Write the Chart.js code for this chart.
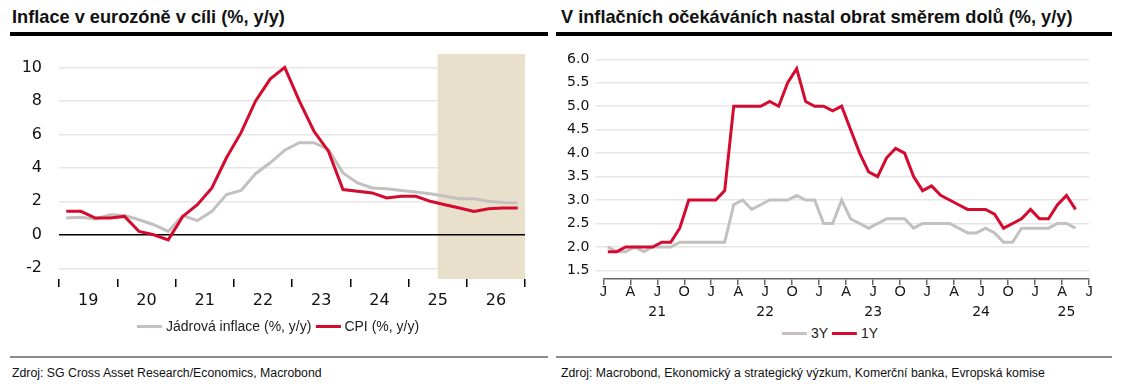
<!DOCTYPE html>
<html>
<head>
<meta charset="utf-8">
<script src="https://cdn.jsdelivr.net/npm/chart.js@4.4.1/dist/chart.umd.min.js"></script>
<style>
  body { margin: 0; width: 1124px; height: 387px; background: #fff; position: relative; overflow: hidden;
         font-family: "Liberation Sans", Arial, sans-serif; color: #111; }
  .title { position: absolute; top: 7px; font-size: 18.2px; font-weight: bold; white-space: nowrap; }
  .rule { position: absolute; top: 32px; height: 4px; background: #000; }
  .foot-rule { position: absolute; top: 356px; height: 2px; background: #8c8c8c; }
  .source { position: absolute; top: 366px; font-size: 12.3px; white-space: nowrap; }
  .legend { position: absolute; font-size: 14px; color: #222; display: flex; align-items: center;
            white-space: nowrap; transform: translateX(-50%); }
  .legend .sw { display: inline-block; width: 25px; height: 3px; margin-right: 4px; }
  .legend .item { display: flex; align-items: center; margin-right: 4px; }
  canvas { position: absolute; }
</style>
</head>
<body>
<div class="title" style="left:12px">Inflace v eurozóně v cíli (%, y/y)</div>
<div class="rule" style="left:10px; width:538px"></div>
<div class="title" style="left:561px">V inflačních očekáváních nastal obrat směrem dolů (%, y/y)</div>
<div class="rule" style="left:556px; width:556px"></div>

<canvas id="euroChart" width="555" height="279" style="left:0; top:40px"></canvas>
<canvas id="expChart" width="569" height="279" style="left:555px; top:40px"></canvas>

<div class="legend" style="left:280px; top:318px">
  <span class="item"><span class="sw" style="background:#c4c0c0"></span>Jádrová inflace (%, y/y)</span>
  <span class="item"><span class="sw" style="background:#d40a2e"></span>CPI (%, y/y)</span>
</div>
<div class="legend" style="left:832px; top:325px">
  <span class="item"><span class="sw" style="background:#c4c0c0"></span>3Y</span>
  <span class="item"><span class="sw" style="background:#d40a2e"></span>1Y</span>
</div>

<div class="foot-rule" style="left:10px; width:538px"></div>
<div class="source" style="left:12px">Zdroj: SG Cross Asset Research/Economics, Macrobond</div>
<div class="foot-rule" style="left:556px; width:556px"></div>
<div class="source" style="left:561px">Zdroj: Macrobond, Ekonomický a strategický výzkum, Komerční banka, Evropská komise</div>

<script>
// --- levý graf: čtvrtletní data 2019Q1 - 2026Q4 ---
const euroStartYear = 2019;
const euroYears = ['19', '20', '21', '22', '23', '24', '25', '26'];
const euroTicks = [-2, 0, 2, 4, 6, 8, 10];
const forecastStart = 2025.5;
const cpi = [1.4, 1.4, 1.0, 1.0, 1.1, 0.2, 0.0, -0.3,
             1.1, 1.8, 2.8, 4.6, 6.1, 8.0, 9.3, 10.0,
             8.0, 6.2, 5.0, 2.7, 2.6, 2.5, 2.2, 2.3,
             2.3, 2.0, 1.8, 1.6, 1.4, 1.55, 1.6, 1.6];
const core = [1.0, 1.05, 0.95, 1.2, 1.15, 0.9, 0.6, 0.2,
              1.15, 0.85, 1.4, 2.4, 2.65, 3.65, 4.3, 5.05,
              5.5, 5.5, 5.1, 3.7, 3.1, 2.8, 2.75, 2.65,
              2.55, 2.45, 2.3, 2.15, 2.15, 2.0, 1.93, 1.9];

// --- pravý graf: měsíční data od 01/2021 ---
const monthLetters = ['J', 'A', 'J', 'O'];
const expYears = ['21', '22', '23', '24', '25'];
const expYearTicks = [6, 18, 30, 42, 51.5];
const expTicks = [1.5, 2.0, 2.5, 3.0, 3.5, 4.0, 4.5, 5.0, 5.5, 6.0];
const oneY = [1.9, 1.9, 2.0, 2.0, 2.0, 2.0, 2.1, 2.1, 2.4, 3.0, 3.0, 3.0,
              3.0, 3.2, 5.0, 5.0, 5.0, 5.0, 5.1, 5.0, 5.5, 5.8, 5.1, 5.0,
              5.0, 4.9, 5.0, 4.5, 4.0, 3.6, 3.5, 3.9, 4.1, 4.0, 3.5, 3.2,
              3.3, 3.1, 3.0, 2.9, 2.8, 2.8, 2.8, 2.7, 2.4, 2.5, 2.6, 2.8,
              2.6, 2.6, 2.9, 3.1, 2.8];
const threeY = [2.0, 1.9, 1.9, 2.0, 1.9, 2.0, 2.0, 2.0, 2.1, 2.1, 2.1, 2.1,
                2.1, 2.1, 2.9, 3.0, 2.8, 2.9, 3.0, 3.0, 3.0, 3.1, 3.0, 3.0,
                2.5, 2.5, 3.0, 2.6, 2.5, 2.4, 2.5, 2.6, 2.6, 2.6, 2.4, 2.5,
                2.5, 2.5, 2.5, 2.4, 2.3, 2.3, 2.4, 2.3, 2.1, 2.1, 2.4, 2.4,
                2.4, 2.4, 2.5, 2.5, 2.4];

const RED = '#d40a2e';
const GREY = '#c4c0c0';
const GRID = '#e6e6e6';
const tickFont = { family: 'DejaVu Sans', size: 16 };

const quarterPoints = arr => arr.map((v, i) => ({ x: euroStartYear + (i + 0.5) / 4, y: v }));
const monthPoints = arr => arr.map((v, i) => ({ x: i + 0.5, y: v }));

// podbarvení prognózy + nulová linie
const forecastShade = {
    id: 'forecastShade',
    beforeDatasetsDraw(chart) {
        const { ctx, chartArea, scales } = chart;
        const x0 = scales.x.getPixelForValue(forecastStart);
        ctx.save();
        ctx.fillStyle = '#e8e0cb';
        ctx.fillRect(x0, chartArea.top, chartArea.right - x0, chartArea.bottom - chartArea.top);
        const y0 = scales.y.getPixelForValue(0);
        ctx.strokeStyle = '#000';
        ctx.lineWidth = 1.5;
        ctx.beginPath();
        ctx.moveTo(chartArea.left, y0);
        ctx.lineTo(chartArea.right, y0);
        ctx.stroke();
        ctx.restore();
    }
};

const yearTickValues = [];
for (let i = 0; i <= euroYears.length; i++) {
    yearTickValues.push(euroStartYear + i);
    if (i < euroYears.length) yearTickValues.push(euroStartYear + i + 0.5);
}

new Chart(document.getElementById('euroChart'), {
    type: 'line',
    data: {
        datasets: [
            { label: 'Jádrová inflace (%, y/y)', data: quarterPoints(core), borderColor: GREY, order: 2 },
            { label: 'CPI (%, y/y)', data: quarterPoints(cpi), borderColor: RED, order: 1 }
        ]
    },
    options: {
        responsive: false,
        animation: false,
        layout: { padding: { top: 14, right: 30, left: 0, bottom: 0 } },
        elements: {
            line: { borderWidth: 3, tension: 0 },
            point: { radius: 0 }
        },
        plugins: { legend: { display: false }, tooltip: { enabled: false } },
        scales: {
            x: {
                type: 'linear',
                min: euroStartYear,
                max: euroStartYear + euroYears.length,
                afterBuildTicks: s => { s.ticks = yearTickValues.map(v => ({ value: v })); },
                afterFit: s => { s.height = 40; },
                border: { display: false },
                grid: {
                    drawOnChartArea: false,
                    tickLength: 8,
                    lineWidth: 1.5,
                    color: ctx => (ctx.tick && Number.isInteger(ctx.tick.value)) ? '#000' : 'rgba(0,0,0,0)'
                },
                ticks: {
                    autoSkip: false,
                    maxRotation: 0,
                    padding: 4,
                    color: '#111',
                    font: tickFont,
                    callback: v => Number.isInteger(v) ? '' : euroYears[Math.floor(v) - euroStartYear]
                }
            },
            y: {
                min: -2.64,
                max: 10.8,
                afterBuildTicks: s => { s.ticks = euroTicks.map(v => ({ value: v })); },
                afterFit: s => { s.width = 59; },
                border: { display: false },
                grid: {
                    drawTicks: true,
                    tickLength: 17,
                    tickColor: 'rgba(0,0,0,0)',
                    lineWidth: 1.5,
                    color: ctx => (ctx.tick && ctx.tick.value === 0) ? 'rgba(0,0,0,0)' : GRID
                },
                ticks: { padding: 0, color: '#111', font: tickFont, callback: v => String(v) }
            }
        }
    },
    plugins: [forecastShade]
});

const quarterTickValues = [];
for (let m = 0; m <= 54; m += 3) quarterTickValues.push(m);

new Chart(document.getElementById('expChart'), {
    type: 'line',
    data: {
        datasets: [
            { label: '3Y', data: monthPoints(threeY), borderColor: GREY, order: 2 },
            { label: '1Y', data: monthPoints(oneY), borderColor: RED, order: 1 }
        ]
    },
    options: {
        responsive: false,
        animation: false,
        layout: { padding: { top: 19.3, right: 35, left: 0, bottom: 0 } },
        elements: {
            line: { borderWidth: 3, tension: 0 },
            point: { radius: 0 }
        },
        plugins: { legend: { display: false }, tooltip: { enabled: false } },
        scales: {
            x: {
                type: 'linear',
                position: 'bottom',
                min: 0,
                max: 54,
                afterBuildTicks: s => { s.ticks = quarterTickValues.map(v => ({ value: v })); },
                afterFit: s => { s.height = 18; },
                border: { display: true, color: '#666', width: 1.5 },
                grid: { drawOnChartArea: false, tickLength: 6, lineWidth: 1.5, color: '#666' },
                ticks: {
                    autoSkip: false,
                    maxRotation: 0,
                    padding: -2,
                    color: '#111',
                    font: { family: 'Liberation Sans', size: 14.5 },
                    callback: v => monthLetters[(v / 3) % 4]
                }
            },
            x2: {
                type: 'linear',
                position: 'bottom',
                min: 0,
                max: 54,
                afterBuildTicks: s => { s.ticks = expYearTicks.map(v => ({ value: v })); },
                afterFit: s => { s.height = 22; },
                border: { display: false },
                grid: { display: false },
                ticks: {
                    autoSkip: false,
                    maxRotation: 0,
                    padding: -1,
                    color: '#111',
                    font: { family: 'DejaVu Sans', size: 14 },
                    callback: (v, i) => expYears[i]
                }
            },
            y: {
                min: 1.317,
                max: 6.0,
                afterBuildTicks: s => { s.ticks = expTicks.map(v => ({ value: v })); },
                afterFit: s => { s.width = 48.3; },
                border: { display: false },
                grid: { drawTicks: true, tickLength: 8, lineWidth: 1.5, color: GRID },
                ticks: { padding: 6, color: '#111', font: { family: 'DejaVu Sans', size: 14 }, callback: v => v.toFixed(1) }
            }
        }
    }
});
</script>
</body>
</html>
